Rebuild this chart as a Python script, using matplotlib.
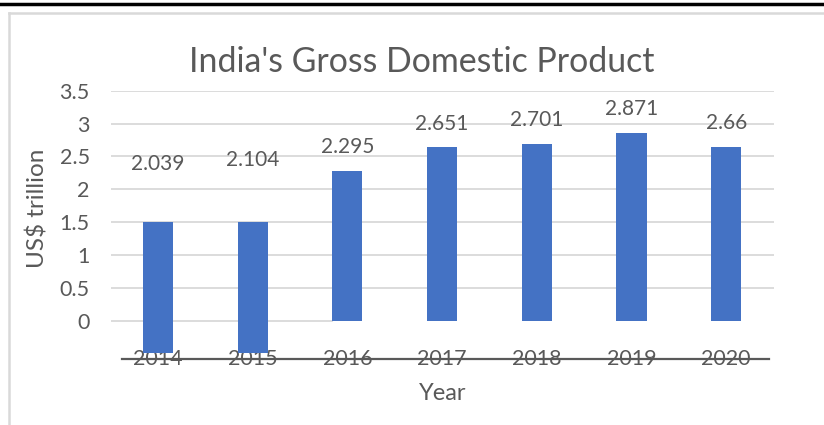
import matplotlib
matplotlib.use("Agg")
import matplotlib.pyplot as plt
from matplotlib.lines import Line2D

years = ["2014", "2015", "2016", "2017", "2018", "2019", "2020"]
gdp_labels = [2.039, 2.104, 2.295, 2.651, 2.701, 2.871, 2.66]
# bars as they appear in the picture (first two are shifted down)
bar_bottoms = [-0.49, -0.49, 0, 0, 0, 0, 0]
bar_tops = [1.5, 1.5, 2.28, 2.64, 2.69, 2.86, 2.64]
yticks = [0, 0.5, 1, 1.5, 2, 2.5, 3, 3.5]

text_col = "#595959"
grid_col = "#D9D9D9"
bar_col = "#4472C4"

plt.rcParams["font.family"] = ["Lato", "DejaVu Sans"]

fig = plt.figure(figsize=(8.24, 4.25), dpi=100)
ax = fig.add_axes([0.1342, 0.1553, 0.8046, 0.6313])

x = list(range(len(years)))
heights = [t - b for t, b in zip(bar_tops, bar_bottoms)]
ax.bar(x, heights, bottom=bar_bottoms, width=0.317, color=bar_col, zorder=3)

for i, v in enumerate(gdp_labels):
    ax.annotate(str(v), (i, v), xytext=(0, 16.5), textcoords="offset points",
                ha="center", va="center", fontsize=15, color=text_col)

ax.set_xlim(-0.5, 6.5)
ax.set_ylim(-0.58, 3.5)

# gridlines (the zero line stops at the 2016 bar)
for yv in yticks[1:]:
    ax.axhline(yv, color=grid_col, lw=1.3, zorder=1)
ax.plot([-0.5, 1.84], [0, 0], color=grid_col, lw=1.3, zorder=1)

# axis line through the year labels
ax.plot([-0.38, 6.45], [-0.58, -0.58], color=text_col, lw=1.6, zorder=4, clip_on=False)

for s in ax.spines.values():
    s.set_visible(False)

ax.set_yticks(yticks)
ax.set_yticklabels([f"{t:g}" for t in yticks])
ax.set_xticks(x)
ax.set_xticklabels(years)
ax.tick_params(axis="both", length=0, labelsize=15.5, labelcolor=text_col)
ax.tick_params(axis="y", pad=15)
ax.tick_params(axis="x", pad=0)
for lab in ax.get_xticklabels():
    lab.set_va("center")
    lab.set_zorder(5)

ax.set_ylabel("US$ trillion", fontsize=17.5, color=text_col)
ax.yaxis.label.set_va("center")
ax.yaxis.set_label_coords(-0.1095, 0.563)
ax.set_xlabel("Year", fontsize=17, color=text_col)
ax.xaxis.set_label_coords(0.501, -0.127)
ax.xaxis.label.set_va("center")

fig.text(422 / 824, 1 - 62 / 425, "India's Gross Domestic Product",
         ha="center", va="center", fontsize=24.4, color=text_col)

# frame: black rule on top, light grey chart border
fig.add_artist(Line2D([0, 1], [1 - 4 / 425, 1 - 4 / 425], color="black", lw=2.5))
fig.add_artist(Line2D([9 / 824, 1], [1 - 13 / 425, 1 - 13 / 425], color=grid_col, lw=1.8))
fig.add_artist(Line2D([9 / 824, 9 / 824], [0, 1 - 13 / 425], color=grid_col, lw=1.8))

fig.savefig("out.png", dpi=100)
